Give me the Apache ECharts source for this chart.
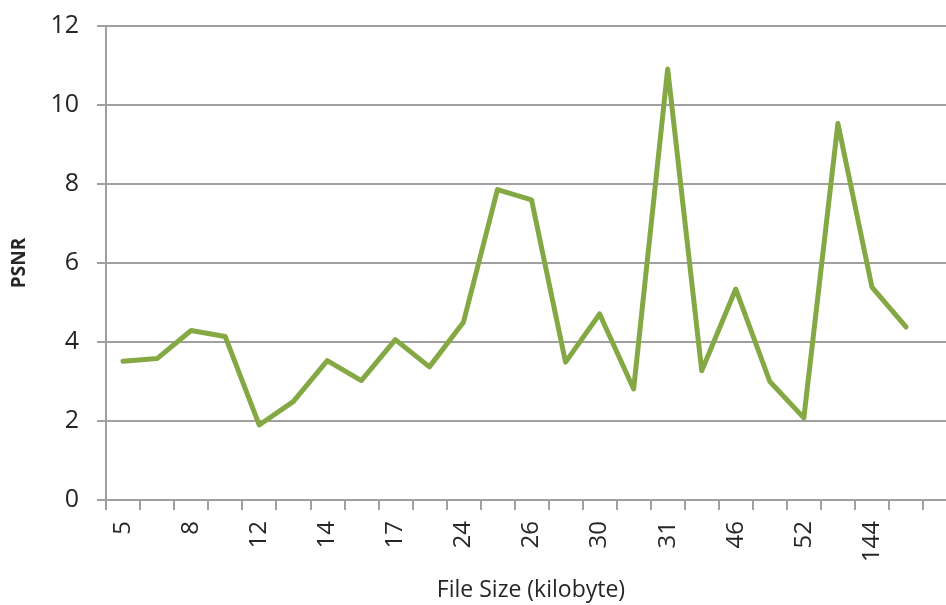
<!DOCTYPE html>
<html>
<head>
<meta charset="utf-8">
<title>PSNR by File Size</title>
<script src="https://cdn.jsdelivr.net/npm/echarts@6/dist/echarts.min.js"></script>
<style>
  html, body { margin: 0; padding: 0; background: #ffffff; }
  #chart { width: 946px; height: 605px; }
</style>
</head>
<body>
<div id="chart"></div>
<script>
// File sizes along the x axis; only every other category carries a label
const fileSizeLabels = ['5', '', '8', '', '12', '', '14', '', '17', '', '24', '',
                        '26', '', '30', '', '31', '', '46', '', '52', '', '144', ''];

// PSNR measured for each file
const psnrValues = [3.51, 3.58, 4.29, 4.14, 1.90, 2.49, 3.53, 3.02, 4.06, 3.37, 4.50, 7.86,
                    7.60, 3.49, 4.71, 2.81, 10.91, 3.27, 5.34, 3.00, 2.08, 9.53, 5.39, 4.38];

// Value axis ticks
const yMin = 0, yMax = 12, yStep = 2;

const textColor = '#262626';
const axisColor = '#a0a0a0';
const font = '"Open Sans", "Noto Sans", sans-serif';

const chart = echarts.init(document.getElementById('chart'), null, { renderer: 'canvas' });

chart.setOption({
  backgroundColor: '#ffffff',
  animation: false,
  grid: [
    // gridline backdrop, running out to the right edge
    { left: 106, right: 0, top: 26, bottom: 105, containLabel: false, outerBoundsMode: 'none' },
    // plotting area
    { left: 106, right: 23, top: 26, bottom: 105, containLabel: false, outerBoundsMode: 'none' }
  ],
  xAxis: [
    {
      gridIndex: 0,
      type: 'value',
      min: 0,
      max: 1,
      axisLine: { show: true, onZero: false, lineStyle: { color: axisColor, width: 2 } },
      axisTick: { show: false },
      axisLabel: { show: false },
      splitLine: { show: false },
      name: 'File Size (kilobyte)',
      nameLocation: 'middle',
      nameGap: 79,
      nameTextStyle: { color: textColor, fontSize: 23, fontFamily: font, padding: [0, 0, 0, 10] }
    },
    {
      gridIndex: 1,
      type: 'category',
      data: fileSizeLabels,
      boundaryGap: true,
      axisLine: { show: true, onZero: false, lineStyle: { color: axisColor, width: 2 } },
      axisTick: { show: true, alignWithLabel: false, interval: 0, length: 10, lineStyle: { color: axisColor, width: 2 } },
      axisLabel: {
        interval: 0,
        rotate: 90,
        margin: 21,
        color: textColor,
        fontSize: 24,
        fontFamily: font
      },
      splitLine: { show: false }
    }
  ],
  yAxis: [
    {
      gridIndex: 0,
      type: 'value',
      min: yMin,
      max: yMax,
      interval: yStep,
      axisLine: { show: false },
      axisTick: { show: false },
      axisLabel: { show: false },
      splitLine: { show: true, lineStyle: { color: axisColor, width: 2 } }
    },
    {
      gridIndex: 1,
      type: 'value',
      min: yMin,
      max: yMax,
      interval: yStep,
      axisLine: { show: true, lineStyle: { color: axisColor, width: 2 } },
      axisTick: { show: true, length: 9, lineStyle: { color: axisColor, width: 2 } },
      axisLabel: { margin: 27, color: textColor, fontSize: 25, fontFamily: font },
      splitLine: { show: false },
      name: 'PSNR',
      nameLocation: 'middle',
      nameGap: 77,
      nameRotate: 90,
      nameTextStyle: { color: textColor, fontSize: 19, fontWeight: 'bold', fontFamily: font }
    }
  ],
  series: [
    {
      name: 'PSNR',
      type: 'line',
      xAxisIndex: 1,
      yAxisIndex: 1,
      data: psnrValues,
      symbol: 'none',
      smooth: false,
      lineStyle: { color: '#84a843', width: 5, join: 'round', cap: 'round' },
      z: 3
    }
  ]
});
</script>
</body>
</html>
